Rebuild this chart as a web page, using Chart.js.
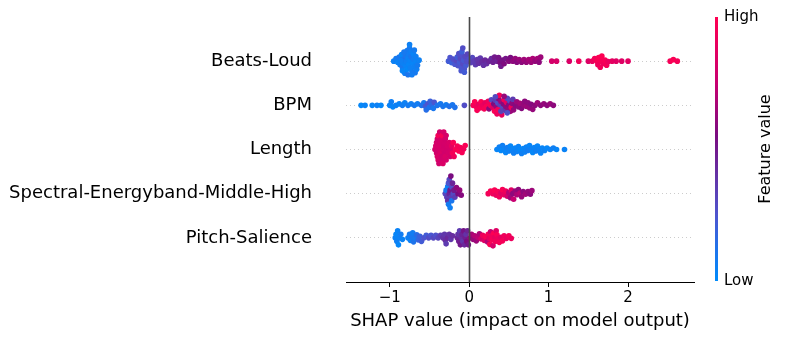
<!DOCTYPE html>
<html>
<head>
<meta charset="utf-8">
<script src="https://cdn.jsdelivr.net/npm/chart.js@4.4.1/dist/chart.umd.min.js"></script>
<style>
  html, body { margin: 0; padding: 0; background: #fff; }
  #wrap { width: 786px; height: 340px; position: relative; }
</style>
</head>
<body>
<div id="wrap"><canvas id="shapChart" width="786" height="340"></canvas></div>
<script>
// feature names, top row first
const features = ["Beats-Loud", "BPM", "Length", "Spectral-Energyband-Middle-High", "Pitch-Salience"];
const xTicks = [-1, 0, 1, 2];

// SHAP values and normalised feature values
const beatsLoudShap = [
  -0.95, -0.92, -0.90, -0.88, -0.87, -0.85, -0.84, -0.83, -0.82, -0.81, -0.80, -0.80, -0.79, -0.78, -0.78, -0.77, -0.77,
  -0.76, -0.76, -0.75, -0.75, -0.74, -0.73, -0.73, -0.72, -0.71, -0.70, -0.69, -0.68, -0.67, -0.66, -0.65, -0.63,
  -0.86, -0.84, -0.82, -0.74, -0.72, -0.70, -0.69, -0.67,
  -0.26, -0.24, -0.22, -0.20, -0.18, -0.16, -0.15, -0.14, -0.13, -0.12, -0.11, -0.10, -0.09, -0.09, -0.08, -0.07,
  -0.06, -0.05, -0.04, -0.03, -0.02, 0.00, 0.02, 0.04, 0.06, -0.10, -0.08, -0.06,
  0.08, 0.10, 0.12, 0.14, 0.16, 0.18, 0.20, 0.22, 0.25, 0.28, 0.30, 0.32, 0.35, 0.37, 0.39, 0.40, 0.42, 0.44,
  0.46, 0.50, 0.52, 0.55, 0.58, 0.60, 0.63, 0.66, 0.69, 0.72, 0.75, 0.78, 0.80, 0.83, 0.86, 0.88, 0.90,
  1.04, 1.10, 1.26, 1.38, 1.50, 1.55, 1.58, 1.61, 1.62, 1.63, 1.65, 1.66, 1.67, 1.69, 1.71, 1.73, 1.75, 1.80,
  1.85, 1.92, 2.00, 2.53, 2.57, 2.62
];
const beatsLoudValue = [
  0.05, 0.08, 0.04, 0.10, 0.06, 0.03, 0.09, 0.05, 0.12, 0.07, 0.04, 0.10, 0.06, 0.02, 0.08, 0.05, 0.11,
  0.03, 0.07, 0.09, 0.05, 0.04, 0.10, 0.06, 0.08, 0.03, 0.07, 0.05, 0.09, 0.04, 0.06, 0.08, 0.05,
  0.06, 0.03, 0.09, 0.05, 0.07, 0.04, 0.08, 0.06,
  0.22, 0.25, 0.20, 0.27, 0.24, 0.30, 0.22, 0.26, 0.28, 0.23, 0.30, 0.25, 0.27, 0.21, 0.29, 0.24,
  0.26, 0.30, 0.23, 0.28, 0.32, 0.27, 0.33, 0.30, 0.35, 0.24, 0.28, 0.22,
  0.36, 0.38, 0.40, 0.37, 0.42, 0.40, 0.44, 0.41, 0.45, 0.43, 0.47, 0.50, 0.46, 0.52, 0.55, 0.50, 0.53, 0.56,
  0.52, 0.58, 0.55, 0.60, 0.62, 0.58, 0.63, 0.60, 0.65, 0.62, 0.66, 0.64, 0.68, 0.62, 0.66, 0.60, 0.64,
  0.80, 0.82, 0.83, 0.93, 0.84, 0.90, 0.95, 0.97, 0.92, 0.98, 0.94, 0.96, 0.99, 0.93, 0.97, 0.95, 0.91, 0.88,
  0.86, 0.85, 0.87, 0.96, 0.98, 0.95
];

const bpmShap = [
  -1.36, -1.31, -1.22, -1.16, -1.11, -1.00, -0.98, -0.96, -0.92, -0.88, -0.84, -0.81, -0.77, -0.73, -0.69, -0.65,
  -0.60, -0.57, -0.55, -0.54, -0.52, -0.50, -0.49, -0.47, -0.45, -0.44, -0.40, -0.36, -0.33, -0.29, -0.25, -0.21,
  -0.18, -0.06,
  0.05, 0.07, 0.09, 0.10, 0.12, 0.14, 0.15, 0.17, 0.19, 0.20, 0.22, 0.24, 0.25, 0.27, 0.28, 0.30, 0.31, 0.32,
  0.33, 0.34, 0.35, 0.36, 0.37, 0.38, 0.39, 0.40, 0.41, 0.42, 0.43, 0.44, 0.45, 0.46, 0.47, 0.48, 0.49, 0.50,
  0.51, 0.52, 0.53, 0.54, 0.55, 0.56, 0.58, 0.60, 0.62, 0.64, 0.66, 0.68, 0.70, 0.72, 0.74, 0.76, 0.78, 0.80,
  0.83, 0.86, 0.90, 0.94, 0.98, 1.02, 1.06, 0.33, 0.36, 0.40, 0.44, 0.48
];
const bpmValue = [
  0.02, 0.04, 0.03, 0.05, 0.02, 0.04, 0.06, 0.03, 0.05, 0.04, 0.07, 0.05, 0.08, 0.06, 0.09, 0.07,
  0.12, 0.10, 0.22, 0.14, 0.25, 0.12, 0.20, 0.16, 0.10, 0.24, 0.12, 0.09, 0.11, 0.08, 0.13, 0.10,
  0.12, 0.28,
  0.95, 0.98, 0.93, 0.97, 0.90, 0.96, 0.99, 0.92, 0.96, 0.88, 0.97, 0.94, 0.60, 0.95, 0.30, 0.85, 0.55, 0.98,
  0.35, 0.62, 0.92, 0.28, 0.58, 0.96, 0.33, 0.65, 0.90, 0.30, 0.57, 0.95, 0.38, 0.60, 0.88, 0.32, 0.62, 0.58,
  0.30, 0.64, 0.93, 0.60, 0.36, 0.62, 0.58, 0.64, 0.60, 0.66, 0.58, 0.62, 0.60, 0.64, 0.60, 0.63, 0.58, 0.62,
  0.60, 0.64, 0.60, 0.62, 0.60, 0.63, 0.60, 0.30, 0.96, 0.34, 0.62, 0.28
];

const lengthShap = [
  -0.43, -0.42, -0.41, -0.41, -0.40, -0.40, -0.39, -0.39, -0.38, -0.38, -0.37, -0.37, -0.36, -0.36, -0.35,
  -0.35, -0.34, -0.34, -0.33, -0.33, -0.32, -0.32, -0.31, -0.31, -0.30, -0.30, -0.29, -0.29, -0.28, -0.27,
  -0.26, -0.25, -0.24, -0.23, -0.22, -0.21, -0.20, -0.19, -0.17, -0.15, -0.13, -0.11, -0.09, -0.07, -0.05,
  0.35, 0.38, 0.40, 0.42, 0.44, 0.46, 0.48, 0.50, 0.52, 0.54, 0.56, 0.58, 0.60, 0.62, 0.64, 0.66, 0.68, 0.70,
  0.72, 0.74, 0.76, 0.78, 0.80, 0.82, 0.84, 0.86, 0.88, 0.90, 0.92, 0.95, 0.98, 1.02, 1.06, 1.10, 1.20
];
const lengthValue = [
  0.80, 0.82, 0.79, 0.81, 0.83, 0.80, 0.82, 0.95, 0.81, 0.79, 0.82, 0.80, 0.83, 0.81, 0.79,
  0.82, 0.80, 0.96, 0.81, 0.83, 0.80, 0.82, 0.79, 0.81, 0.83, 0.80, 0.82, 0.81, 0.80, 0.82,
  0.81, 0.83, 0.80, 0.82, 0.88, 0.95, 0.97, 0.93, 0.98, 0.96, 0.99, 0.95, 0.97, 0.94, 0.98,
  0.03, 0.05, 0.02, 0.06, 0.04, 0.03, 0.07, 0.05, 0.02, 0.04, 0.06, 0.03, 0.05, 0.04, 0.02, 0.06, 0.03, 0.05,
  0.04, 0.07, 0.03, 0.05, 0.02, 0.04, 0.06, 0.03, 0.05, 0.04, 0.03, 0.05, 0.02, 0.04, 0.06, 0.03, 0.04
];

const spectralShap = [
  -0.30, -0.29, -0.28, -0.27, -0.27, -0.26, -0.26, -0.25, -0.25, -0.24, -0.24, -0.23, -0.23, -0.22, -0.22,
  -0.21, -0.20, -0.19, -0.18, -0.16, -0.14, -0.12, -0.10,
  0.24, 0.27, 0.30, 0.32, 0.34, 0.36, 0.38, 0.40, 0.42, 0.44, 0.46, 0.48, 0.50, 0.52, 0.53, 0.55, 0.56, 0.58,
  0.60, 0.62, 0.64, 0.66, 0.68, 0.71, 0.74, 0.77, 0.79
];
const spectralValue = [
  0.30, 0.10, 0.35, 0.05, 0.40, 0.25, 0.08, 0.45, 0.30, 0.50, 0.06, 0.35, 0.55, 0.28, 0.10,
  0.45, 0.30, 0.50, 0.35, 0.60, 0.55, 0.62, 0.58,
  0.95, 0.97, 0.93, 0.98, 0.90, 0.96, 0.94, 0.85, 0.97, 0.88, 0.92, 0.80, 0.70, 0.65, 0.85, 0.60, 0.75, 0.62,
  0.68, 0.60, 0.72, 0.63, 0.60, 0.65, 0.62, 0.60, 0.64
];

const pitchShap = [
  -0.93, -0.92, -0.91, -0.90, -0.89, -0.88, -0.86, -0.84,
  -0.77, -0.75, -0.74, -0.72, -0.71, -0.70, -0.68, -0.66, -0.64, -0.62, -0.60,
  -0.57, -0.54, -0.51, -0.48, -0.45, -0.42, -0.39, -0.36,
  -0.33, -0.31, -0.30, -0.29, -0.27, -0.25, -0.23, -0.21,
  -0.15, -0.14, -0.13, -0.12, -0.11, -0.10, -0.09, -0.08, -0.07, -0.06, -0.05, -0.04, -0.03, -0.02, -0.01,
  0.01, 0.03, 0.05, 0.07, 0.09, 0.11, 0.13,
  0.15, 0.17, 0.19, 0.21, 0.23, 0.24, 0.25, 0.26, 0.27, 0.28, 0.29, 0.30, 0.31, 0.32, 0.33, 0.34, 0.35,
  0.36, 0.38, 0.40, 0.42, 0.44, 0.47, 0.50, 0.53
];
const pitchValue = [
  0.05, 0.03, 0.06, 0.04, 0.02, 0.05, 0.07, 0.04,
  0.06, 0.08, 0.05, 0.10, 0.07, 0.12, 0.09, 0.15, 0.18, 0.20, 0.22,
  0.25, 0.22, 0.28, 0.24, 0.30, 0.26, 0.32, 0.35,
  0.40, 0.38, 0.42, 0.36, 0.44, 0.40, 0.38, 0.42,
  0.45, 0.40, 0.48, 0.36, 0.50, 0.42, 0.46, 0.38, 0.52, 0.44, 0.48, 0.40, 0.55, 0.46, 0.50,
  0.60, 0.66, 0.62, 0.70, 0.64, 0.72, 0.68,
  0.80, 0.92, 0.85, 0.97, 0.70, 0.95, 0.88, 0.98, 0.75, 0.93, 0.96, 0.82, 0.99, 0.90, 0.94, 0.86, 0.97,
  0.92, 0.95, 0.88, 0.96, 0.93, 0.90, 0.95, 0.92
];

const shapSeries = [beatsLoudShap, bpmShap, lengthShap, spectralShap, pitchShap];
const valueSeries = [beatsLoudValue, bpmValue, lengthValue, spectralValue, pitchValue];

// blue -> purple -> red, like shap's red_blue map
const cmapStops = [
  [0.0, [0, 139, 251]],
  [0.12, [30, 115, 235]],
  [0.25, [78, 84, 206]],
  [0.4, [100, 50, 165]],
  [0.55, [122, 12, 128]],
  [0.75, [200, 0, 112]],
  [1.0, [255, 0, 82]]
];
const colorFor = (v) => {
  for (let i = 1; i < cmapStops.length; i++) {
    if (v <= cmapStops[i][0]) {
      const [a, ca] = cmapStops[i - 1];
      const [b, cb] = cmapStops[i];
      const t = (v - a) / (b - a);
      const c = ca.map((x, k) => Math.round(x + (cb[k] - x) * t));
      return `rgb(${c[0]}, ${c[1]}, ${c[2]})`;
    }
  }
  return "rgb(255, 0, 82)";
};

// beeswarm: push overlapping dots up/down, roughly in pixel units
const PX_PER_UNIT = 79.5;
const PX_PER_ROW = 44;
const GAP = 3.4;
const swarm = (xs, row) => {
  const order = xs.map((x, i) => i).sort((a, b) => xs[a] - xs[b]);
  const placed = [];
  const ys = new Array(xs.length);
  order.forEach((i) => {
    const px = xs[i] * PX_PER_UNIT;
    let off = 0;
    for (let k = 0; k < 200; k++) {
      const cand = Math.ceil(k / 2) * (k % 2 ? 1 : -1) * 0.5;
      const free = placed.every((p) => Math.hypot(p.x - px, p.y - cand) >= GAP);
      if (free) { off = cand; break; }
    }
    placed.push({ x: px, y: off });
    ys[i] = row + off / PX_PER_ROW;
  });
  return ys;
};

const datasets = features.map((name, f) => {
  const row = features.length - 1 - f;
  const xs = shapSeries[f];
  const ys = swarm(xs, row);
  return {
    label: name,
    data: xs.map((x, i) => ({ x, y: ys[i] })),
    pointBackgroundColor: valueSeries[f].map(colorFor),
    pointBorderWidth: 0,
    pointRadius: 2.8,
    pointHoverRadius: 2.8
  };
});

const FONT = "'DejaVu Sans', sans-serif";

// zero line on top of the dots plus the colour bar on the right
const extras = {
  id: "extras",
  afterDatasetsDraw(chart) {
    const { ctx, chartArea, scales } = chart;
    const x0 = Math.round(scales.x.getPixelForValue(0)) + 0.5;
    ctx.save();
    ctx.strokeStyle = "#4a4a4a";
    ctx.lineWidth = 1.6;
    ctx.beginPath();
    ctx.moveTo(x0, chartArea.top);
    ctx.lineTo(x0, chartArea.bottom);
    ctx.stroke();
    ctx.restore();
  },
  afterDraw(chart) {
    const { ctx, chartArea } = chart;
    const top = chartArea.top, bottom = chartArea.bottom - 1;
    const grad = ctx.createLinearGradient(0, bottom, 0, top);
    cmapStops.forEach(([s, c]) => grad.addColorStop(s, `rgb(${c[0]}, ${c[1]}, ${c[2]})`));
    ctx.save();
    ctx.fillStyle = grad;
    ctx.fillRect(715, top, 3, bottom - top);
    ctx.fillStyle = "#000";
    ctx.font = `15px ${FONT}`;
    ctx.textAlign = "left";
    ctx.textBaseline = "middle";
    ctx.fillText("High", 724, top);
    ctx.fillText("Low", 724, bottom);
    ctx.font = `16px ${FONT}`;
    ctx.translate(766, (top + bottom) / 2);
    ctx.rotate(-Math.PI / 2);
    ctx.textAlign = "center";
    ctx.fillText("Feature value", 0, 0);
    ctx.restore();
  }
};

new Chart(document.getElementById("shapChart"), {
  type: "scatter",
  data: { datasets },
  options: {
    responsive: false,
    animation: false,
    events: [],
    layout: { padding: { left: 10, right: 92, top: 17, bottom: 0 } },
    plugins: { legend: { display: false }, tooltip: { enabled: false } },
    scales: {
      x: {
        type: "linear",
        min: -1.55,
        max: 2.83,
        afterBuildTicks: (scale) => { scale.ticks = xTicks.map((v) => ({ value: v })); },
        afterFit: (scale) => {
          scale.height = 58;
          scale.paddingLeft = 0;
          scale.paddingRight = 0;
        },
        ticks: {
          color: "#000",
          font: { family: FONT, size: 15 },
          padding: 2,
          callback: (v) => (v < 0 ? "\u2212" + Math.abs(v) : String(v))
        },
        grid: { drawOnChartArea: false, drawTicks: true, tickLength: 5, tickColor: "#000", tickWidth: 1 },
        border: { display: true, color: "#000", width: 1 },
        title: {
          display: true,
          text: "SHAP value (impact on model output)",
          color: "#000",
          font: { family: FONT, size: 18 },
          padding: { top: 0, bottom: 8 }
        }
      },
      y: {
        type: "linear",
        min: -1,
        max: 5,
        afterBuildTicks: (scale) => { scale.ticks = [0, 1, 2, 3, 4].map((v) => ({ value: v })); },
        afterFit: (scale) => {
          scale.width = 336;
          scale.paddingTop = 0;
          scale.paddingBottom = 0;
        },
        ticks: {
          color: "#000",
          font: { family: FONT, size: 18 },
          padding: 34,
          callback: (v) => features[features.length - 1 - v]
        },
        grid: { color: "#cccccc", lineWidth: 1, drawTicks: false },
        border: { display: false, dash: [1, 3] }
      }
    }
  },
  plugins: [extras]
});
</script>
</body>
</html>
